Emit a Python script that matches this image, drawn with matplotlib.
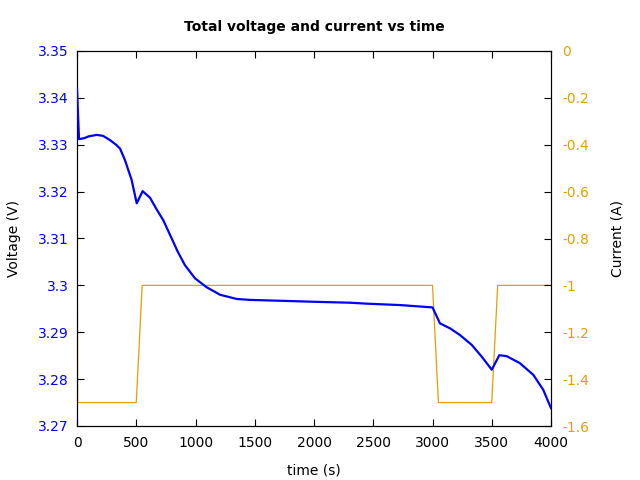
import matplotlib
matplotlib.use("Agg")
import matplotlib.pyplot as plt
from matplotlib.ticker import FuncFormatter, MultipleLocator

plt.rcParams['axes.unicode_minus'] = False
plt.rcParams['font.family'] = ['DejaVu Sans']

t_v = [0, 17, 60, 100, 166, 220, 278, 330, 363, 405, 461, 504, 554, 616, 670, 728,
       790, 850, 911, 996, 1094, 1207, 1348, 1460, 1741, 2000, 2304, 2445, 2726, 3000,
       3063, 3150, 3232, 3331, 3415, 3500, 3564, 3626, 3738, 3851, 3935, 4000]
voltage = [3.342, 3.3312, 3.3314, 3.3318, 3.3321, 3.3319, 3.3310, 3.3300, 3.3292, 3.3267,
           3.3225, 3.3175, 3.3201, 3.3187, 3.3163, 3.3139, 3.3105, 3.3072, 3.3043, 3.3015,
           3.2996, 3.2980, 3.2971, 3.2969, 3.2967, 3.2965, 3.2963, 3.2961, 3.2958, 3.2953,
           3.2919, 3.2908, 3.2894, 3.2873, 3.2848, 3.2820, 3.2851, 3.2849, 3.2834, 3.2809,
           3.2777, 3.2738]

t_i = [0, 5, 500, 550, 3000, 3050, 3500, 3550, 4000]
current = [0, -1.5, -1.5, -1.0, -1.0, -1.5, -1.5, -1.0, -1.0]

blue = '#0000ff'
orange = '#e69f00'

fig = plt.figure(figsize=(6.4, 4.8), dpi=100)
ax = fig.add_axes([77/640, 1-426/480, (551-77)/640, (426-51)/480])
ax2 = ax.twinx()

ax2.plot(t_i, current, color=orange, lw=0.9, zorder=1)
ax.plot(t_v, voltage, color=blue, lw=1.6, zorder=3)
ax.set_zorder(ax2.get_zorder() + 1)
ax.patch.set_visible(False)

ax.set_xlim(0, 4000)
ax.set_ylim(3.27, 3.35)
ax2.set_ylim(-1.6, 0)

ax.xaxis.set_major_locator(MultipleLocator(500))
ax.yaxis.set_major_locator(MultipleLocator(0.01))
ax2.yaxis.set_major_locator(MultipleLocator(0.2))
fmt = FuncFormatter(lambda v, p: ('%g' % round(v, 6)))
ax.xaxis.set_major_formatter(fmt)
ax.yaxis.set_major_formatter(fmt)
ax2.yaxis.set_major_formatter(fmt)

ax.tick_params(axis='x', direction='in', top=True, length=5, labelsize=10, pad=7.5)
ax.tick_params(axis='y', direction='in', length=5, labelsize=10, labelcolor=blue, pad=6)
ax2.tick_params(axis='y', direction='in', length=5, labelsize=10, labelcolor=orange, pad=8)

ax.set_xlabel('time (s)', fontsize=10, labelpad=9.5)
ax.set_ylabel('Voltage (V)', fontsize=10, labelpad=12)
ax2.set_ylabel('Current (A)', fontsize=10, labelpad=15.5)
ax.set_title('Total voltage and current vs time', fontsize=10, fontweight='bold', pad=14.5)

fig.savefig('out.png', dpi=100)
